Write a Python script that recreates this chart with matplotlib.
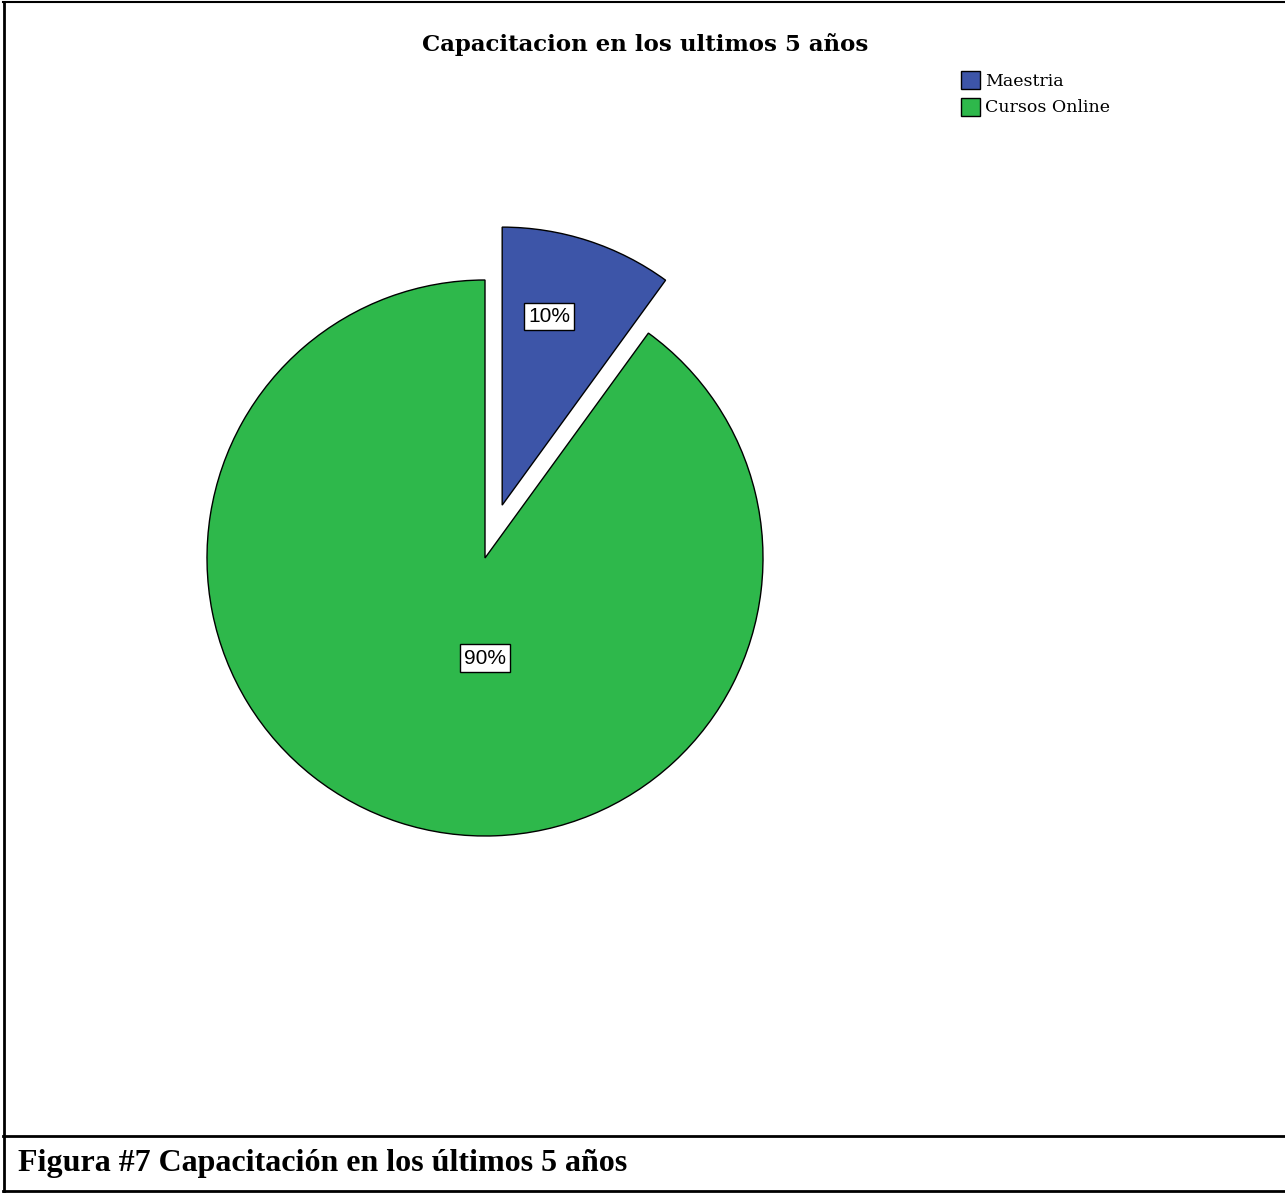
"""Pie chart: training received in the last five years."""

import numpy as np
import matplotlib

matplotlib.use("Agg")

import matplotlib.pyplot as plt
from matplotlib.lines import Line2D
from matplotlib.patches import Patch

W, H = 1285, 1193

categories = ["Maestria", "Cursos Online"]
shares = [10, 90]
colors = ["#3d55a8", "#2eb84b"]
title = "Capacitacion en los ultimos 5 años"
caption = "Figura #7 Capacitación en los últimos 5 años"

fig = plt.figure(figsize=(W / 100, H / 100), dpi=100)
ax = fig.add_axes([0, 0, 1, 1])
ax.set_xlim(0, W)
ax.set_ylim(0, H)
ax.set_aspect("equal")
ax.axis("off")

center = (485, H - 558)
radius = 278
# pie() offsets exploded wedges in data units, so scale by the radius
explode = [0.2 * radius, 0.0]

wedges, _ = ax.pie(
    shares,
    colors=colors,
    startangle=90,
    counterclock=False,
    explode=explode,
    center=center,
    radius=radius,
    wedgeprops=dict(edgecolor="black", linewidth=1.0),
)
ax.set_xlim(0, W)
ax.set_ylim(0, H)

# percentage boxes, placed at (angle, fraction of radius) from each wedge's apex
label_pos = [(76, 0.70), (-90, 0.36)]
for wedge, share, (ang, frac) in zip(wedges, shares, label_pos):
    cx, cy = wedge.center
    x = cx + frac * radius * np.cos(np.radians(ang))
    y = cy + frac * radius * np.sin(np.radians(ang))
    ax.text(x, y, f"{share}%", ha="center", va="center", fontsize=15,
            family="Liberation Sans",
            bbox=dict(boxstyle="square,pad=0.2", fc="white", ec="black", lw=1.0))

fig.text(645 / W, 1 - 45 / H, title, ha="center", va="center",
         fontsize=16.5, fontweight="bold", family="DejaVu Serif")

handles = [Patch(facecolor=c, edgecolor="black", linewidth=1.0) for c in colors]
fig.legend(handles, categories, loc="upper left",
           bbox_to_anchor=(949 / W, 1 - 59 / H), frameon=False,
           prop=dict(family="DejaVu Serif", size=12.5),
           handlelength=1.1, handleheight=1.2, handletextpad=0.3,
           labelspacing=0.45, borderpad=0.2)

fig.text(18 / W, 1 - 1163 / H, caption, ha="left", va="center",
         fontsize=23, fontweight="bold", family="Liberation Serif")

# table frame around the figure
def hline(y, x0=3, x1=W, lw=2.0):
    fig.add_artist(Line2D([x0 / W, x1 / W], [1 - y / H, 1 - y / H],
                          color="black", lw=lw, transform=fig.transFigure))

hline(2, lw=1.5)
hline(1136)
hline(1191)
fig.add_artist(Line2D([3.5 / W, 3.5 / W], [0, 1 - 2 / H], color="black",
                      lw=2.0, transform=fig.transFigure))

fig.savefig("out.png", dpi=100)
